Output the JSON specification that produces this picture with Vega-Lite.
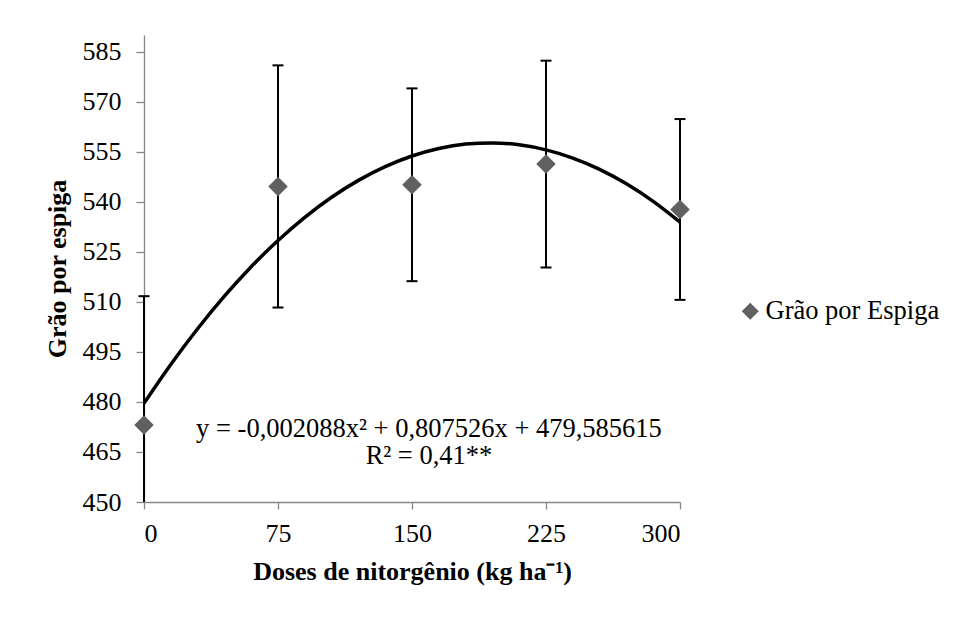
{
  "$schema": "https://vega.github.io/schema/vega-lite/v6.json",
  "width": 536,
  "height": 467,
  "autosize": {"type": "none"},
  "padding": {"left": 144, "top": 35, "right": 280, "bottom": 115},
  "background": "white",
  "config": {
    "font": "Liberation Serif",
    "view": {"stroke": null},
    "legend": {"labelFont": "Liberation Serif", "labelFontSize": 26.5, "labelColor": "#000000"},
    "axis": {
      "domainColor": "#868686",
      "domainWidth": 1.3,
      "tickColor": "#868686",
      "tickWidth": 1.3,
      "labelFont": "Liberation Serif",
      "labelFontSize": 26,
      "labelColor": "#000000",
      "titleFont": "Liberation Serif",
      "titleFontSize": 26,
      "titleFontWeight": "bold",
      "titleColor": "#000000",
      "grid": false
    }
  },
  "datasets": {
    "means": [
      {"dose": 0, "mean": 473.1, "lo": 434.3, "hi": 511.7, "serie": "Grão por  Espiga"},
      {"dose": 75, "mean": 544.6, "lo": 508.3, "hi": 580.9, "serie": "Grão por  Espiga"},
      {"dose": 150, "mean": 545.1, "lo": 516.2, "hi": 574.0, "serie": "Grão por  Espiga"},
      {"dose": 225, "mean": 551.3, "lo": 520.3, "hi": 582.3, "serie": "Grão por  Espiga"},
      {"dose": 300, "mean": 537.7, "lo": 510.6, "hi": 564.8, "serie": "Grão por  Espiga"}
    ],
    "curve": [
      {"dose": 0, "fit": 479.59},
      {"dose": 15, "fit": 491.23},
      {"dose": 30, "fit": 501.93},
      {"dose": 45, "fit": 511.70},
      {"dose": 60, "fit": 520.52},
      {"dose": 75, "fit": 528.40},
      {"dose": 90, "fit": 535.35},
      {"dose": 105, "fit": 541.36},
      {"dose": 120, "fit": 546.42},
      {"dose": 135, "fit": 550.55},
      {"dose": 150, "fit": 553.73},
      {"dose": 165, "fit": 555.98},
      {"dose": 180, "fit": 557.29},
      {"dose": 195, "fit": 557.66},
      {"dose": 210, "fit": 557.08},
      {"dose": 225, "fit": 555.57},
      {"dose": 240, "fit": 553.12},
      {"dose": 255, "fit": 549.73},
      {"dose": 270, "fit": 545.40},
      {"dose": 285, "fit": 540.13},
      {"dose": 300, "fit": 533.92}
    ],
    "notes": [
      {"dose": 159.5, "yy": 471.9, "label": "y = -0,002088x² + 0,807526x + 479,585615"},
      {"dose": 159.5, "yy": 463.8, "label": "R² = 0,41**"}
    ]
  },
  "encoding": {
    "x": {
      "field": "dose",
      "type": "quantitative",
      "scale": {"domain": [0, 300], "nice": false, "zero": false},
      "axis": {
        "values": [0, 75, 150, 225, 300],
        "tickSize": 7,
        "labelPadding": 11,
        "title": "Doses de nitorgênio (kg ha⁻¹)",
        "titlePadding": 12
      }
    }
  },
  "layer": [
    {
      "data": {"name": "means"},
      "mark": {"type": "rule", "color": "#000000", "strokeWidth": 2},
      "encoding": {
        "y": {
          "field": "lo",
          "type": "quantitative",
          "scale": {"domain": [450, 590], "nice": false, "zero": false, "clamp": true},
          "axis": {
            "values": [450, 465, 480, 495, 510, 525, 540, 555, 570, 585],
            "tickSize": 8,
            "labelPadding": 15,
            "title": "Grão por espiga",
            "titlePadding": 12
          }
        },
        "y2": {"field": "hi"}
      }
    },
    {
      "data": {"name": "means"},
      "mark": {"type": "tick", "orient": "horizontal", "color": "#000000", "size": 11, "thickness": 2, "opacity": 1},
      "encoding": {"y": {"field": "hi", "type": "quantitative"}}
    },
    {
      "data": {"name": "means"},
      "transform": [{"filter": "datum.lo >= 450"}],
      "mark": {"type": "tick", "orient": "horizontal", "color": "#000000", "size": 11, "thickness": 2, "opacity": 1},
      "encoding": {"y": {"field": "lo", "type": "quantitative"}}
    },
    {
      "data": {"name": "curve"},
      "mark": {"type": "line", "color": "#000000", "strokeWidth": 3.5, "interpolate": "monotone"},
      "encoding": {"y": {"field": "fit", "type": "quantitative"}}
    },
    {
      "data": {"name": "means"},
      "mark": {"type": "point", "filled": true, "opacity": 1, "size": 380, "shape": "diamond"},
      "encoding": {
        "y": {"field": "mean", "type": "quantitative"},
        "color": {
          "field": "serie",
          "type": "nominal",
          "scale": {"range": ["#606060"]},
          "legend": {
            "title": null,
            "orient": "none",
            "legendX": 593,
            "legendY": 263,
            "padding": 0,
            "symbolType": "diamond",
            "symbolSize": 290,
            "symbolStrokeWidth": 0,
            "labelFont": "Liberation Serif",
            "labelFontSize": 26.5,
            "labelColor": "#000000",
            "labelOffset": 2,
            "labelLimit": 400
          }
        }
      }
    },
    {
      "data": {"name": "notes"},
      "mark": {"type": "text", "font": "Liberation Serif", "fontSize": 26.5, "color": "#000000", "align": "center", "baseline": "middle"},
      "encoding": {
        "y": {"field": "yy", "type": "quantitative"},
        "text": {"field": "label", "type": "nominal"}
      }
    }
  ]
}
